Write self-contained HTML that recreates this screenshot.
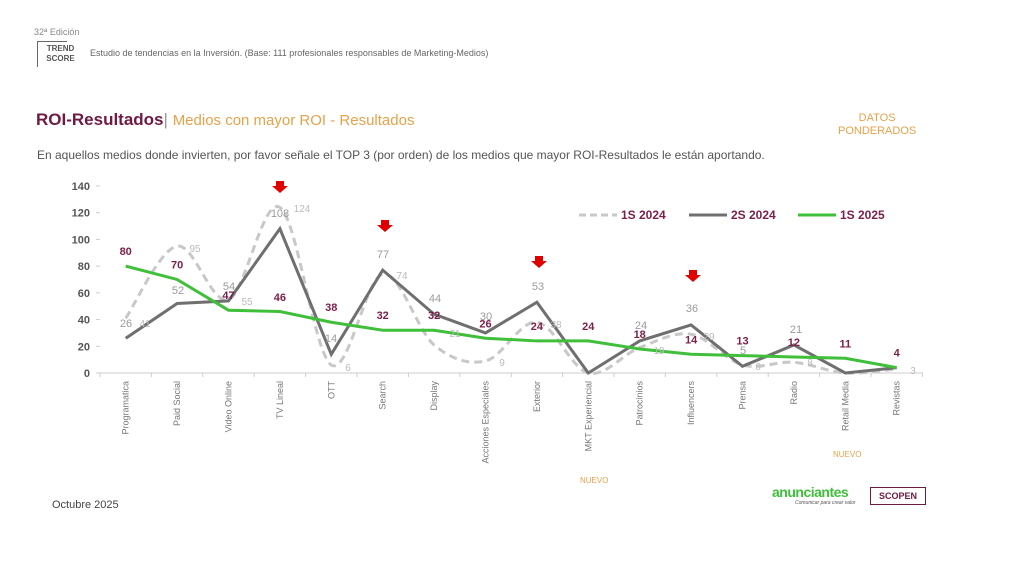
<!DOCTYPE html>
<html><head><meta charset="utf-8"><style>
body{margin:0;width:1024px;height:577px;background:#fff;font-family:"Liberation Sans",sans-serif;overflow:hidden;position:relative}
.a{position:absolute;white-space:nowrap}
</style></head><body>
<div class="a" style="left:34px;top:27px;font-size:9px;color:#888">32ª Edición</div>
<div class="a" style="left:37px;top:41px;width:46px;height:26px;border-left:1.5px solid #666;font-size:8px;font-weight:bold;color:#555;text-align:center;line-height:10px;padding-top:3px;box-sizing:border-box">TREND<br>SCORE</div>
<div class="a" style="left:37px;top:41px;width:46px;height:1px;border-top:1.5px solid #666;width:30px"></div>
<div class="a" style="left:90px;top:48px;font-size:9px;color:#666">Estudio de tendencias en la Inversión. (Base: 111 profesionales responsables de Marketing-Medios)</div>
<div class="a" style="left:36px;top:110px;font-size:17px;font-weight:bold;color:#6e1a43">ROI-Resultados<span style="font-weight:normal;color:#999">|</span> <span style="font-weight:normal;color:#e6a24a;font-size:15px">Medios con mayor ROI - Resultados</span></div>
<div class="a" style="left:37px;top:148px;font-size:12px;color:#555">En aquellos medios donde invierten, por favor señale el TOP 3 (por orden) de los medios que mayor ROI-Resultados le están aportando.</div>
<div class="a" style="left:838px;top:112px;font-size:11px;color:#e6a24a;text-align:center;line-height:13px">DATOS<br>PONDERADOS</div>
<div class="a" style="left:52px;top:499px;font-size:11px;color:#444">Octubre 2025</div>
<div class="a" style="left:772px;top:484px;font-size:14px;font-weight:bold;color:#3fbf3a;letter-spacing:-0.5px">anunciantes</div>
<div class="a" style="left:795px;top:500px;font-size:5px;color:#555;font-style:italic">Comunicar para crear valor</div>
<div class="a" style="left:870px;top:487px;width:56px;height:18px;border:1px solid #6e1a43;box-sizing:border-box;font-size:9px;font-weight:bold;color:#6e1a43;text-align:center;line-height:16px">SCOPEN</div>
<svg id="s" class="a" style="left:0;top:0" width="1024" height="577"></svg>
<script>
var s=document.getElementById('s'),h='';
var X=i=>125.7+i*51.4, Y=v=>373-v*1.336;
h+='<line x1="100" y1="373" x2="923" y2="373" stroke="#ccc"/>';
for(var i=0;i<=16;i++)h+='<line x1="'+(100+i*51.4)+'" y1="373" x2="'+(100+i*51.4)+'" y2="377" stroke="#ccc"/>';
for(var v=0;v<=140;v+=20)h+='<text x="90" y="'+(Y(v)+4)+'" font-size="11" font-weight="bold" fill="#555" text-anchor="end">'+v+'</text><line x1="96" x2="100" y1="'+Y(v)+'" y2="'+Y(v)+'" stroke="#ccc"/>';
var cats=["Programatica","Paid Social","Video Online","TV Lineal","OTT","Search","Display","Acciones Especiales","Exterior","MKT Experiencial","Patrocinios","Influencers","Prensa","Radio","Retail Media","Revistas"];
cats.forEach((c,i)=>{h+='<text transform="translate('+(X(i)+3)+',381) rotate(-90)" font-size="9" fill="#777" text-anchor="end">'+c+'</text>'});
h+='<text x="580" y="483" font-size="8" fill="#e6a24a">NUEVO</text><text x="833" y="457" font-size="8" fill="#e6a24a">NUEVO</text>';
var s1=[41,95,55,124,6,74,21,9,38,0,19,29,6,8,0,3],s2=[26,52,54,108,14,77,44,30,53,0,24,36,5,21,0,4],g=[80,70,47,46,38,32,32,26,24,24,18,14,13,12,11,4];
var p=s1.map((v,i)=>[X(i),Y(v)]),d='M'+p[0];
for(var i=0;i<p.length-1;i++){var a=p[i-1]||p[i],b=p[i],c=p[i+1],e=p[i+2]||c;
d+=' C'+(b[0]+(c[0]-a[0])/6)+','+(b[1]+(c[1]-a[1])/6)+' '+(c[0]-(e[0]-b[0])/6)+','+(c[1]-(e[1]-b[1])/6)+' '+c;}
h+='<path d="'+d+'" fill="none" stroke="#c8c8c8" stroke-width="3" stroke-dasharray="8,5"/>';
h+='<polyline points="'+s2.map((v,i)=>X(i)+','+Y(v)).join(' ')+'" fill="none" stroke="#6f6f6f" stroke-width="3"/>';
h+='<polyline points="'+g.map((v,i)=>X(i)+','+Y(v)).join(' ')+'" fill="none" stroke="#3fbf3a" stroke-width="3"/>';
var L2=[[126,327,26],[178,294,52],[229,290,54],[280,217,108],[331,342,14],[383,258,77],[435,302,44],[486,320,30],[538,290,53],[641,329,24],[692,312,36],[743,354,5],[796,333,21]];
var L1=[[145,327,41],[195,252,95],[247,305,55],[302,212,124],[348,371,6],[402,279,74],[455,337,21],[502,366,9],[556,328,38],[659,354,19],[709,340,29],[758,370,6],[810,366,8],[913,374,3]];
L2.forEach(l=>h+='<text x="'+l[0]+'" y="'+l[1]+'" font-size="11" fill="#9a9a9a" text-anchor="middle">'+l[2]+'</text>');
L1.forEach(l=>h+='<text x="'+l[0]+'" y="'+l[1]+'" font-size="10" fill="#bbb" text-anchor="middle">'+l[2]+'</text>');
g.forEach((v,i)=>{var y=Y(v)-11;if(i==3)y=301;h+='<text x="'+X(i)+'" y="'+y+'" font-size="11" font-weight="bold" fill="#7a1f4a" text-anchor="middle">'+v+'</text>'});
[[280,181],[385,220],[539,256],[693,270]].forEach(a=>{var x=a[0],y=a[1];h+='<polygon points="'+(x-4)+','+y+' '+(x+4)+','+y+' '+(x+4)+','+(y+5)+' '+(x+8)+','+(y+5)+' '+x+','+(y+12)+' '+(x-8)+','+(y+5)+' '+(x-4)+','+(y+5)+'" fill="#e00000"/>'});
h+='<line x1="579" x2="617" y1="215" y2="215" stroke="#c8c8c8" stroke-width="3" stroke-dasharray="7,4"/><text x="621" y="219" font-size="12" font-weight="bold" fill="#7a1f4a">1S 2024</text>';
h+='<line x1="689" x2="727" y1="215" y2="215" stroke="#6f6f6f" stroke-width="3"/><text x="731" y="219" font-size="12" font-weight="bold" fill="#7a1f4a">2S 2024</text>';
h+='<line x1="798" x2="836" y1="215" y2="215" stroke="#3fbf3a" stroke-width="3"/><text x="840" y="219" font-size="12" font-weight="bold" fill="#7a1f4a">1S 2025</text>';
s.innerHTML=h;
</script>
</body></html>
